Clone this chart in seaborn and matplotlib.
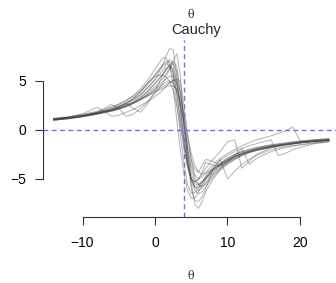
import matplotlib
matplotlib.use("Agg")
import numpy as np
import pandas as pd
import matplotlib.pyplot as plt
import seaborn as sns

theta = [-14, -12, -10, -8,
         -7, -6, -5, -4, -3, -2, -1, 0,
         1, 1.5, 2, 2.5, 3, 3.5, 4, 4.5, 5, 5.5, 6, 6.5, 7,
         8, 9, 10, 11, 12, 13, 14,
         16, 17, 18, 19, 20, 22, 24]

# one score curve per simulated Cauchy sample
c01 = [1.05, 1.2, 1.4, 1.7,
       1.9, 2.1, 2.4, 2.7, 3.1, 3.6, 4.3, 5.2,
       6.5, 7.5, 8.3, 8.2, 5.5, 2.0, -1.0, -3.5, -5.0, -5.8, -5.9, -5.6, -5.1,
       -4.3, -3.6, -3.1, -2.7, -2.4, -2.2, -2.0,
       -1.7, -1.55, -1.45, -1.35, -1.25, -1.1, -1.0]
c02 = [1.1, 1.25, 1.5, 1.8,
       2.0, 2.3, 2.6, 3.0, 3.5, 4.2, 5.1, 6.2,
       7.3, 7.4, 6.6, 4.5, 1.0, -2.0, -4.5, -6.2, -7.0, -6.9, -6.3, -5.6, -5.0,
       -4.1, -3.5, -3.0, -2.6, -2.3, -2.1, -1.9,
       -1.6, -1.5, -1.4, -1.3, -1.2, -1.05, -0.95]
c03 = [1.0, 1.15, 1.4, 1.8,
       2.2, 2.6, 2.2, 1.4, 1.6, 2.2, 2.9, 3.7,
       4.7, 5.4, 6.2, 6.8, 6.0, 3.6, 0.5, -2.0, -4.0, -5.2, -5.5, -5.3, -4.9,
       -4.0, -3.4, -2.9, -2.5, -2.2, -2.0, -1.8,
       -1.5, -1.4, -1.3, -1.2, -1.15, -1.0, -0.9]
c04 = [1.1, 1.3, 1.65, 2.3,
       1.9, 1.4, 1.5, 1.8, 2.1, 2.5, 2.9, 3.4,
       4.0, 4.4, 4.8, 5.1, 5.0, 3.8, 1.5, -2.0, -5.5, -7.6, -8.0, -7.3, -6.3,
       -5.0, -4.1, -3.5, -3.0, -2.6, -2.3, -2.1,
       -1.75, -1.6, -1.5, -1.4, -1.3, -1.15, -1.05]
c05 = [1.2, 1.35, 1.6, 1.9,
       2.1, 2.35, 2.65, 3.0, 3.45, 4.0, 4.8, 5.7,
       6.6, 7.0, 7.0, 6.0, 3.7, 0.8, -1.8, -3.8, -5.0, -5.3, -5.0, -4.5, -3.9,
       -3.0, -2.2, -1.2, -1.0, -3.9, -3.2, -2.5,
       -1.8, -1.65, -1.5, -1.4, -1.3, -1.15, -1.05]
c06 = [1.0, 1.15, 1.35, 1.6,
       1.75, 1.9, 2.1, 2.35, 2.7, 3.1, 3.6, 4.2,
       4.9, 5.2, 5.5, 5.5, 4.6, 2.8, 0.5, -1.8, -3.6, -4.6, -5.0, -4.8, -4.4,
       -3.5, -2.9, -2.4, -2.0, -1.6, -1.3, -1.0,
       -0.6, -0.35, -0.1, 0.3, -1.1, -1.2, -1.0]
c07 = [1.1, 1.25, 1.45, 1.75,
       1.95, 2.15, 2.45, 2.8, 3.25, 3.85, 4.6, 5.5,
       6.5, 6.8, 6.6, 5.4, 2.8, -0.5, -3.5, -5.6, -6.5, -6.4, -5.9, -5.3, -4.7,
       -3.8, -3.1, -2.6, -2.2, -1.85, -1.6, -1.4,
       -1.0, -2.6, -2.4, -2.0, -1.8, -1.4, -1.2]
c08 = [1.15, 1.3, 1.5, 1.75,
       1.9, 2.05, 2.25, 2.5, 2.8, 3.15, 3.5, 3.9,
       4.2, 4.4, 4.5, 4.5, 4.2, 3.2, 1.5, -0.5, -2.4, -3.6, -4.3, -4.5, -4.4,
       -4.0, -3.5, -3.1, -2.7, -2.4, -2.15, -1.95,
       -1.65, -1.55, -1.45, -1.35, -1.25, -1.1, -1.0]
c09 = [1.1, 1.25, 1.45, 1.7,
       1.85, 2.0, 2.25, 2.55, 2.9, 3.4, 4.0, 4.8,
       5.6, 6.1, 6.6, 7.0, 6.5, 4.0, 1.0, -3.0, -6.0, -7.2, -7.3, -6.8, -6.0,
       -4.0, -3.0, -5.0, -4.2, -3.5, -3.0, -2.6,
       -2.0, -1.85, -1.7, -1.6, -1.5, -1.3, -1.15]
c10 = [1.0, 1.15, 1.35, 1.6,
       1.8, 2.0, 2.3, 2.7, 2.2, 1.8, 2.7, 4.0,
       5.5, 6.3, 6.6, 5.8, 3.8, 1.2, -1.2, -3.4, -5.0, -5.8, -5.7, -5.3, -4.8,
       -4.0, -3.4, -2.9, -2.5, -2.2, -2.0, -1.8,
       -1.55, -1.45, -1.35, -1.25, -1.15, -1.0, -0.9]
c11 = [1.05, 1.2, 1.4, 1.65,
       1.8, 1.95, 2.15, 2.4, 2.75, 3.2, 3.75, 4.4,
       5.2, 5.7, 6.3, 7.0, 7.8, 5.5, 0.5, -3.0, -5.2, -6.2, -6.5, -6.3, -5.8,
       -4.8, -4.0, -3.4, -3.0, -2.6, -2.3, -2.1,
       -1.8, -1.7, -1.55, -1.45, -1.35, -1.2, -1.05]
c12 = [1.1, 1.25, 1.45, 1.7,
       1.85, 2.0, 2.2, 2.45, 2.75, 3.1, 3.6, 4.1,
       4.6, 4.85, 5.0, 4.8, 4.0, 2.5, 0.8, -1.2, -3.0, -4.0, -4.3, -3.6, -3.0,
       -3.2, -3.6, -3.2, -2.8, -2.5, -2.25, -2.0,
       -1.7, -1.6, -1.5, -1.4, -1.3, -1.15, -1.05]
c13 = [1.15, 1.3, 1.5, 1.8,
       1.95, 2.15, 2.4, 2.7, 3.1, 3.6, 4.3, 5.1,
       6.0, 6.6, 7.2, 6.8, 5.0, 2.2, -0.8, -3.3, -5.0, -5.9, -6.2, -5.9, -5.4,
       -4.5, -3.8, -3.3, -2.6, -1.9, -3.5, -2.9,
       -2.2, -2.0, -1.8, -1.65, -1.55, -1.35, -1.2]
c14 = [1.0, 1.15, 1.35, 1.65,
       1.85, 2.05, 2.35, 2.7, 3.2, 3.9, 4.8, 5.5,
       5.6, 5.4, 5.0, 4.0, 2.5, 0.5, -1.8, -3.8, -5.0, -5.3, -5.0, -4.3, -3.3,
       -3.6, -3.7, -3.2, -2.8, -2.45, -2.2, -2.0,
       -1.7, -1.6, -1.5, -1.4, -1.3, -1.15, -1.05]
c15 = [1.1, 1.25, 1.45, 1.7,
       1.85, 2.0, 2.2, 2.5, 2.85, 3.3, 3.9, 4.7,
       5.6, 6.1, 6.5, 6.3, 4.8, 2.5, 0.0, -2.5, -4.5, -5.5, -5.6, -5.3, -4.9,
       -4.2, -3.6, -3.1, -2.7, -2.4, -2.15, -1.95,
       -1.65, -1.55, -1.45, -1.35, -1.25, -1.1, -1.0]
c16 = [1.05, 1.2, 1.4, 1.65,
       1.8, 1.95, 2.15, 2.4, 2.7, 3.05, 3.45, 3.9,
       4.4, 4.6, 4.8, 5.0, 5.2, 5.0, 2.5, -0.5, -3.0, -4.8, -5.6, -5.8, -5.5,
       -4.6, -3.9, -3.3, -2.9, -2.55, -2.3, -2.05,
       -1.75, -1.6, -1.5, -1.4, -1.3, -1.15, -1.05]

curves = [c01, c02, c03, c04, c05, c06, c07, c08,
          c09, c10, c11, c12, c13, c14, c15, c16]
theta_true = 4
x_ticks = [-10, 0, 10, 20]
y_ticks = [-5, 0, 5]

# long format for seaborn
rows = []
for i, vals in enumerate(curves):
    for t, v in zip(theta, vals):
        rows.append((i, t, v))
df = pd.DataFrame(rows, columns=["sample", "theta", "score"])

sns.set_theme(style="white")
plt.rcParams["font.family"] = ["Liberation Sans", "DejaVu Sans"]

fig = plt.figure(figsize=(3.36, 2.83), dpi=100)
ax = fig.add_axes([42.5 / 336, 66 / 283, 297.5 / 336, 177 / 283])

sns.lineplot(data=df, x="theta", y="score", units="sample", estimator=None,
             color="#454545", alpha=0.38, linewidth=0.75, ax=ax, legend=False)

blue = "#7b68ee"
ax.axvline(theta_true, color=blue, lw=1.0, dashes=(3.5, 2.5))
ax.axhline(0, color=blue, lw=1.0, dashes=(3.5, 2.5))

ax.set_xlim(-15.52, 25.52)
ax.set_ylim(-8.88, 9.18)
ax.set_xticks(x_ticks)
ax.set_yticks(y_ticks)
ax.set_xticklabels([str(t).replace("-", "\u2212") for t in x_ticks])
ax.set_yticklabels([str(t).replace("-", "\u2212") for t in y_ticks])
ax.set_xlabel("")
ax.set_ylabel("")

for s in ["top", "right"]:
    ax.spines[s].set_visible(False)
ax.spines["left"].set_bounds(-5, 5)
ax.spines["bottom"].set_bounds(-10, 20)
for s in ["left", "bottom"]:
    ax.spines[s].set_color("#333333")
    ax.spines[s].set_linewidth(0.8)
ax.tick_params(axis="both", direction="out", length=5.8, width=0.8,
               color="#333333", labelsize=10, labelcolor="black",
               bottom=True, left=True)
ax.tick_params(axis="x", pad=8)
ax.tick_params(axis="y", pad=6)
ax.set_facecolor("white")

fig.text(191 / 336, 1 - 15 / 283, "\u03b8", ha="center", va="center",
         family="DejaVu Serif", fontsize=8)
fig.text(196 / 336, 1 - 30 / 283, "Cauchy", ha="center", va="center", fontsize=10.5)
fig.text(190.5 / 336, 1 - 276 / 283, "\u03b8", ha="center", va="center",
         family="DejaVu Serif", fontsize=8)

fig.savefig("out.png", dpi=100)
plt.close(fig)
